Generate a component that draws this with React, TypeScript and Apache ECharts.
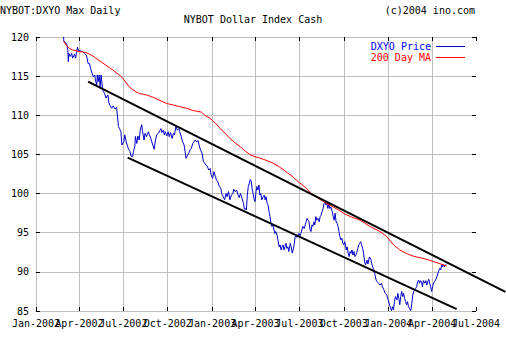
import React, { useEffect, useRef } from "react";
import * as echarts from "echarts";

// x values are days counted from 2002-01-01
const TOTAL_DAYS = 912; // 2002-01-01 .. 2004-07-01
const MONTHS = ["Jan", "Feb", "Mar", "Apr", "May", "Jun", "Jul", "Aug", "Sep", "Oct", "Nov", "Dec"];
const Y_MIN = 85;
const Y_MAX = 120;
const Y_STEP = 5;

const priceDays = [
  57, 58, 61, 64, 66, 67, 68, 71, 74, 76, 80, 82, 84, 86, 88, 92, 97, 101, 104, 106, 108, 111, 113, 116, 119,
  122, 123, 126, 127, 129, 131, 133, 135, 138, 140, 142, 145, 149, 151, 153, 157, 160, 164, 167, 171, 173, 176,
  178, 182, 184, 187, 189, 192, 195, 197, 200, 202, 205, 206, 209, 211, 214, 216, 219, 221, 224, 226, 229, 233,
  235, 238, 240, 245, 247, 250, 254, 257, 259, 261, 264, 266, 268, 271, 274, 276, 279, 282, 285, 287, 290, 293,
  296, 298, 301, 304, 307, 309, 311, 314, 317, 319, 322, 325, 327, 330, 333, 336, 338, 341, 344, 347, 350, 352,
  355, 358, 361, 363, 366, 369, 372, 374, 377, 380, 383, 385, 388, 391, 394, 396, 399, 402, 405, 408, 410, 413,
  416, 419, 421, 424, 427, 430, 432, 434, 436, 438, 440, 442, 444, 446, 448, 450, 452, 454, 456, 458, 460, 462,
  464, 466, 468, 471, 473, 475, 477, 479, 481, 483, 485, 487, 489, 491, 493, 495, 497, 500, 502, 504, 506, 508,
  510, 512, 514, 516, 518, 520, 522, 524, 527, 529, 531, 533, 535, 537, 539, 541, 543, 545, 547, 549, 551, 553,
  556, 558, 560, 562, 564, 566, 568, 570, 572, 574, 576, 578, 580, 582, 584, 587, 589, 591, 593, 595, 597, 599,
  601, 603, 605, 607, 609, 611, 614, 616, 618, 620, 622, 624, 626, 628, 630, 632, 634, 636, 638, 640, 643, 645,
  647, 649, 651, 653, 655, 657, 659, 661, 663, 665, 667, 669, 671, 673, 675, 677, 679, 681, 683, 686, 688, 691,
  694, 696, 699, 702, 705, 707, 710, 713, 716, 718, 721, 724, 727, 730, 732, 735, 737, 739, 741, 743, 745, 748,
  750, 752, 754, 756, 758, 760, 762, 764, 766, 768, 770, 772, 774, 777, 779, 781, 783, 785, 787, 789, 791, 793,
  795, 797, 799, 801, 803, 806, 808, 810, 812, 814, 816, 818, 820, 822, 824, 826, 828, 830, 832, 834, 837, 839,
  841, 843, 845, 847, 849, 851,
];
const priceValues = [
  120.0, 119.4, 119.3, 119.0, 118.3, 116.85, 117.9, 117.5, 117.9, 117.3, 117.8, 117.3, 118.0, 118.7, 118.25, 118.25,
  118.1, 117.9, 117.7, 117.3, 116.6, 116.6, 116.0, 115.4, 114.9, 115.15, 114.5, 113.9, 115.15, 114.3, 115.15, 113.65,
  115.15, 113.3, 113.0, 112.8, 112.2, 112.6, 111.6, 111.3, 110.9, 111.2, 110.8, 111.0, 108.55, 108.3, 107.9, 106.2,
  106.6, 107.5, 106.6, 106.2, 105.65, 105.35, 104.8, 104.7, 105.35, 106.1, 107.3, 106.4, 107.35, 106.85, 108.1, 108.8,
  107.9, 106.85, 107.7, 107.27, 107.9, 107.5, 107.05, 106.6, 105.65, 106.6, 107.5, 107.7, 108.1, 108.3, 107.8, 108.1,
  107.5, 107.9, 107.36, 107.9, 107.27, 107.8, 107.05, 107.7, 107.5, 108.55, 108.1, 108.3, 107.9, 107.27, 106.6, 106.2,
  105.35, 104.5, 104.9, 105.2, 105.57, 105.8, 106.4, 106.6, 106.85, 106.6, 106.76, 106.2, 105.57, 105.2, 104.1, 103.87,
  103.65, 103.5, 103.0, 103.2, 102.4, 101.95, 102.8, 102.15, 101.75, 101.5, 100.9, 100.7, 100.0, 99.6, 99.2, 100.0,
  99.6, 100.25, 99.2, 99.8, 100.0, 100.55, 100.25, 100.45, 99.8, 99.5, 100.0, 99.4, 98.75, 98.0, 98.1, 97.9,
  99.8, 100.9, 101.3, 101.8, 101.6, 100.6, 100.0, 99.3, 98.97, 100.25, 100.9, 100.45, 101.1, 99.8, 100.0, 99.2,
  99.6, 99.8, 99.2, 99.6, 98.75, 98.55, 97.7, 97.05, 96.2, 95.8, 96.1, 95.45, 94.9, 95.15, 94.6, 93.85,
  93.2, 93.45, 92.8, 93.2, 93.45, 92.8, 93.2, 93.65, 93.0, 93.2, 92.6, 93.65, 93.2, 92.4, 92.8, 93.45,
  94.4, 94.6, 94.4, 94.7, 94.9, 94.6, 94.9, 95.35, 95.8, 95.55, 96.0, 96.4, 96.85, 96.6, 96.4, 95.35,
  95.15, 96.0, 95.8, 96.4, 96.0, 97.05, 96.6, 96.85, 96.4, 97.05, 97.25, 97.7, 98.1, 98.75, 98.97, 98.55,
  98.85, 98.1, 98.75, 98.1, 98.3, 97.7, 97.05, 96.6, 97.5, 96.4, 96.2, 95.8, 95.15, 94.5, 94.1, 94.3,
  93.65, 93.45, 93.85, 92.8, 93.2, 92.4, 91.95, 92.6, 92.37, 92.8, 92.15, 92.6, 91.95, 92.15, 92.45, 93.0,
  93.45, 93.65, 93.85, 93.45, 93.0, 92.4, 91.3, 90.9, 91.5, 91.0, 91.9, 91.6, 91.0, 90.45, 89.8, 88.95,
  88.75, 88.55, 88.3, 88.55, 88.1, 87.7, 87.25, 87.05, 86.4, 86.0, 85.35, 85.05, 85.55, 85.15, 86.2, 86.85,
  86.4, 87.25, 86.6, 85.8, 86.85, 87.5, 86.85, 87.25, 86.6, 86.2, 85.8, 86.2, 85.55, 85.35, 85.05, 86.0,
  87.05, 87.5, 87.7, 87.9, 88.1, 88.75, 88.95, 88.55, 88.88, 88.75, 88.1, 88.88, 88.55, 88.88, 88.3, 88.75,
  89.05, 88.55, 88.1, 87.5, 88.1, 88.55, 88.75, 88.95, 89.2, 89.6, 90.0, 90.45, 90.25, 90.9, 90.65, 90.9,
  90.65, 90.9, 91.0,
];

const maDays = [
  57, 62, 69, 76, 83, 90, 97, 104, 111, 117, 124, 131, 138, 145, 152, 159, 166, 173, 180, 187, 193, 200, 207, 214,
  221, 229, 238, 243, 257, 271, 285, 298, 312, 326, 343, 350, 361, 371, 381, 392, 402, 412, 423, 433, 443, 454,
  461, 475, 489, 502, 516, 530, 544, 558, 571, 585, 599, 613, 627, 640, 652, 672, 692, 713, 727, 741, 754, 768,
  782, 796, 810, 824, 837, 851,
];
const maValues = [
  119.5, 119.0, 118.55, 118.35, 118.25, 118.1, 118.1, 118.0, 117.8, 117.6, 117.3, 117.0, 116.7, 116.4, 116.1, 115.8,
  115.45, 115.15, 114.7, 114.15, 113.65, 113.3, 113.0, 112.8, 112.7, 112.6, 112.4, 112.3, 111.9, 111.5, 111.3, 111.1,
  110.9, 110.6, 110.4, 110.0, 109.6, 109.05, 108.35, 107.7, 107.05, 106.5, 106.0, 105.45, 105.0, 104.7, 104.6, 104.3,
  103.95, 103.5, 102.9, 102.25, 101.5, 100.8, 100.0, 99.4, 98.85, 98.4, 97.9, 97.4, 97.05, 96.6, 95.8, 95.15,
  94.5, 93.45, 92.8, 92.35, 92.0, 91.8, 91.6, 91.3, 91.05, 90.75,
];

const upperTrendDays = [108, 973];
const upperTrendValues = [114.3, 87.45];
const lowerTrendDays = [190, 872];
const lowerTrendValues = [104.6, 85.25];

const SERIES_NAMES = ["DXYO Price", "200 Day MA"];
const TITLE_LEFT = "NYBOT:DXYO Max Daily";
const TITLE_CENTER = "NYBOT Dollar Index Cash";
const TITLE_RIGHT = "(c)2004 ino.com";

const FONT = "DejaVu Sans Mono";
const GRID_GRAY = "#bebebe";
const BLUE = "#0000cc";
const RED = "#ff0000";

// layout
const W = 506;
const GRID_LEFT = 36;
const GRID_RIGHT = 30;
const GRID_TOP = 37;
const GRID_BOTTOM = 41;
// the trend lines run past the plot's right edge, so they sit in a wider grid
// whose day scale is the same as the main plot's
const TREND_MAX_DAY = (TOTAL_DAYS * (W - GRID_LEFT)) / (W - GRID_LEFT - GRID_RIGHT);

const categories: string[] = [];
for (let d = 0; d <= TOTAL_DAYS; d++) {
  categories.push(new Date(Date.UTC(2002, 0, 1 + d)).toISOString().slice(0, 10));
}
const isQuarterStart = (v: string) =>
  v.slice(8, 10) === "01" && ["01", "04", "07", "10"].includes(v.slice(5, 7));
const quarterIndex = (v: string) => (Number(v.slice(0, 4)) - 2002) * 4 + (Number(v.slice(5, 7)) - 1) / 3;
const fmtQuarter = (v: string) => `${MONTHS[Number(v.slice(5, 7)) - 1]}-${v.slice(0, 4)}`;

const zip = (xs: number[], ys: number[]) => xs.map((x, i) => [x, ys[i]]);

export default function App() {
  const ref = useRef<HTMLDivElement>(null);
  useEffect(() => {
    if (!ref.current) return;
    const chart = echarts.init(ref.current, undefined, { renderer: "svg" });
    const textBase = { fontFamily: FONT, fontSize: 10, color: "#000", fontWeight: "normal" as const };
    // The quarter labels overlap one another in the original; they are split over two
    // bottom axes (even / odd quarters) so that ECharts keeps every one of them.
    const labelAxis = (parity: number, withLine: boolean) => ({
      type: "category",
      gridIndex: 0,
      data: categories,
      position: "bottom",
      boundaryGap: false,
      axisLine: { show: withLine, onZero: false, lineStyle: { color: GRID_GRAY, width: 1 } },
      axisTick: {
        show: withLine,
        inside: true,
        length: 4,
        interval: (_i: number, v: string) => isQuarterStart(v),
        lineStyle: { color: "#000", width: 1 },
      },
      axisLabel: {
        show: true,
        interval: (_i: number, v: string) => isQuarterStart(v) && quarterIndex(v) % 2 === parity,
        formatter: fmtQuarter,
        showMinLabel: parity === 0 ? true : undefined,
        showMaxLabel: parity === 0 ? true : undefined,
        margin: 7,
        ...textBase,
      },
      splitLine: {
        show: withLine,
        interval: (i: number, v: string) => isQuarterStart(v) && i < TOTAL_DAYS,
        lineStyle: { color: GRID_GRAY, width: 1 },
      },
    });
    chart.setOption({
      animation: false,
      backgroundColor: "#fff",
      title: [
        { text: TITLE_LEFT, left: 0, top: 4, padding: 0, textStyle: { ...textBase, lineHeight: 12 } },
        { text: TITLE_CENTER, left: "center", top: 13, padding: 0, textStyle: { ...textBase, lineHeight: 12 } },
        { text: TITLE_RIGHT, right: 31, top: 4, padding: 0, textStyle: { ...textBase, lineHeight: 12 } },
      ],
      legend: {
        data: [
          { name: SERIES_NAMES[0], textStyle: { color: "#0000ff" } },
          { name: SERIES_NAMES[1], textStyle: { color: RED } },
        ],
        orient: "vertical",
        align: "right",
        right: 41,
        top: 41,
        padding: 0,
        itemGap: 0,
        itemWidth: 29,
        itemHeight: 1,
        icon: "rect",
        textStyle: { fontFamily: FONT, fontSize: 10, lineHeight: 11 },
        selectedMode: false,
      },
      grid: [
        { left: GRID_LEFT, right: GRID_RIGHT, top: GRID_TOP, bottom: GRID_BOTTOM, containLabel: false },
        { left: GRID_LEFT, right: 0, top: GRID_TOP, bottom: GRID_BOTTOM, containLabel: false },
      ],
      xAxis: [
        labelAxis(0, true),
        labelAxis(1, false),
        {
          type: "category",
          gridIndex: 0,
          data: categories,
          position: "top",
          boundaryGap: false,
          axisLine: { show: true, onZero: false, lineStyle: { color: GRID_GRAY, width: 1 } },
          axisTick: {
            show: true,
            inside: true,
            length: 4,
            interval: (_i: number, v: string) => isQuarterStart(v),
            lineStyle: { color: "#000", width: 1 },
          },
          axisLabel: { show: false },
          splitLine: { show: false },
        },
        {
          type: "value",
          gridIndex: 0,
          position: "bottom",
          min: 0,
          max: TOTAL_DAYS,
          show: false,
          splitLine: { show: false },
        },
        {
          type: "value",
          gridIndex: 1,
          min: 0,
          max: TREND_MAX_DAY,
          show: false,
          splitLine: { show: false },
        },
      ],
      yAxis: [
        {
          type: "value",
          gridIndex: 0,
          position: "left",
          min: Y_MIN,
          max: Y_MAX,
          interval: Y_STEP,
          axisLine: { show: true, lineStyle: { color: GRID_GRAY, width: 1 } },
          axisTick: { show: true, inside: true, length: 4, lineStyle: { color: "#000", width: 1 } },
          axisLabel: { show: true, margin: 7, ...textBase },
          splitLine: { show: true, lineStyle: { color: GRID_GRAY, width: 1 } },
        },
        {
          type: "value",
          gridIndex: 0,
          position: "right",
          min: Y_MIN,
          max: Y_MAX,
          interval: Y_STEP,
          axisLine: { show: false },
          axisTick: { show: true, inside: true, length: 4, lineStyle: { color: "#000", width: 1 } },
          axisLabel: { show: false },
          splitLine: { show: false },
        },
        {
          type: "value",
          gridIndex: 1,
          min: Y_MIN,
          max: Y_MAX,
          interval: Y_STEP,
          show: false,
          splitLine: { show: false },
        },
      ],
      series: [
        {
          name: SERIES_NAMES[0],
          type: "line",
          xAxisIndex: 3,
          yAxisIndex: 0,
          data: zip(priceDays, priceValues),
          showSymbol: false,
          symbol: "none",
          itemStyle: { color: BLUE },
          lineStyle: { color: BLUE, width: 1 },
          silent: true,
        },
        {
          name: SERIES_NAMES[1],
          type: "line",
          xAxisIndex: 3,
          yAxisIndex: 0,
          data: zip(maDays, maValues),
          showSymbol: false,
          symbol: "none",
          itemStyle: { color: RED },
          lineStyle: { color: RED, width: 1 },
          silent: true,
        },
        {
          name: "Upper trend",
          type: "line",
          xAxisIndex: 4,
          yAxisIndex: 2,
          data: zip(upperTrendDays, upperTrendValues),
          showSymbol: false,
          symbol: "none",
          clip: false,
          itemStyle: { color: "#000" },
          lineStyle: { color: "#000", width: 2 },
          silent: true,
        },
        {
          name: "Lower trend",
          type: "line",
          xAxisIndex: 4,
          yAxisIndex: 2,
          data: zip(lowerTrendDays, lowerTrendValues),
          showSymbol: false,
          symbol: "none",
          clip: false,
          itemStyle: { color: "#000" },
          lineStyle: { color: "#000", width: 2 },
          silent: true,
        },
      ],
    });
    return () => chart.dispose();
  }, []);
  return (
    <div
      ref={ref}
      style={{ position: "fixed", left: 0, top: 0, width: W, height: 352, background: "#fff" }}
    />
  );
}
